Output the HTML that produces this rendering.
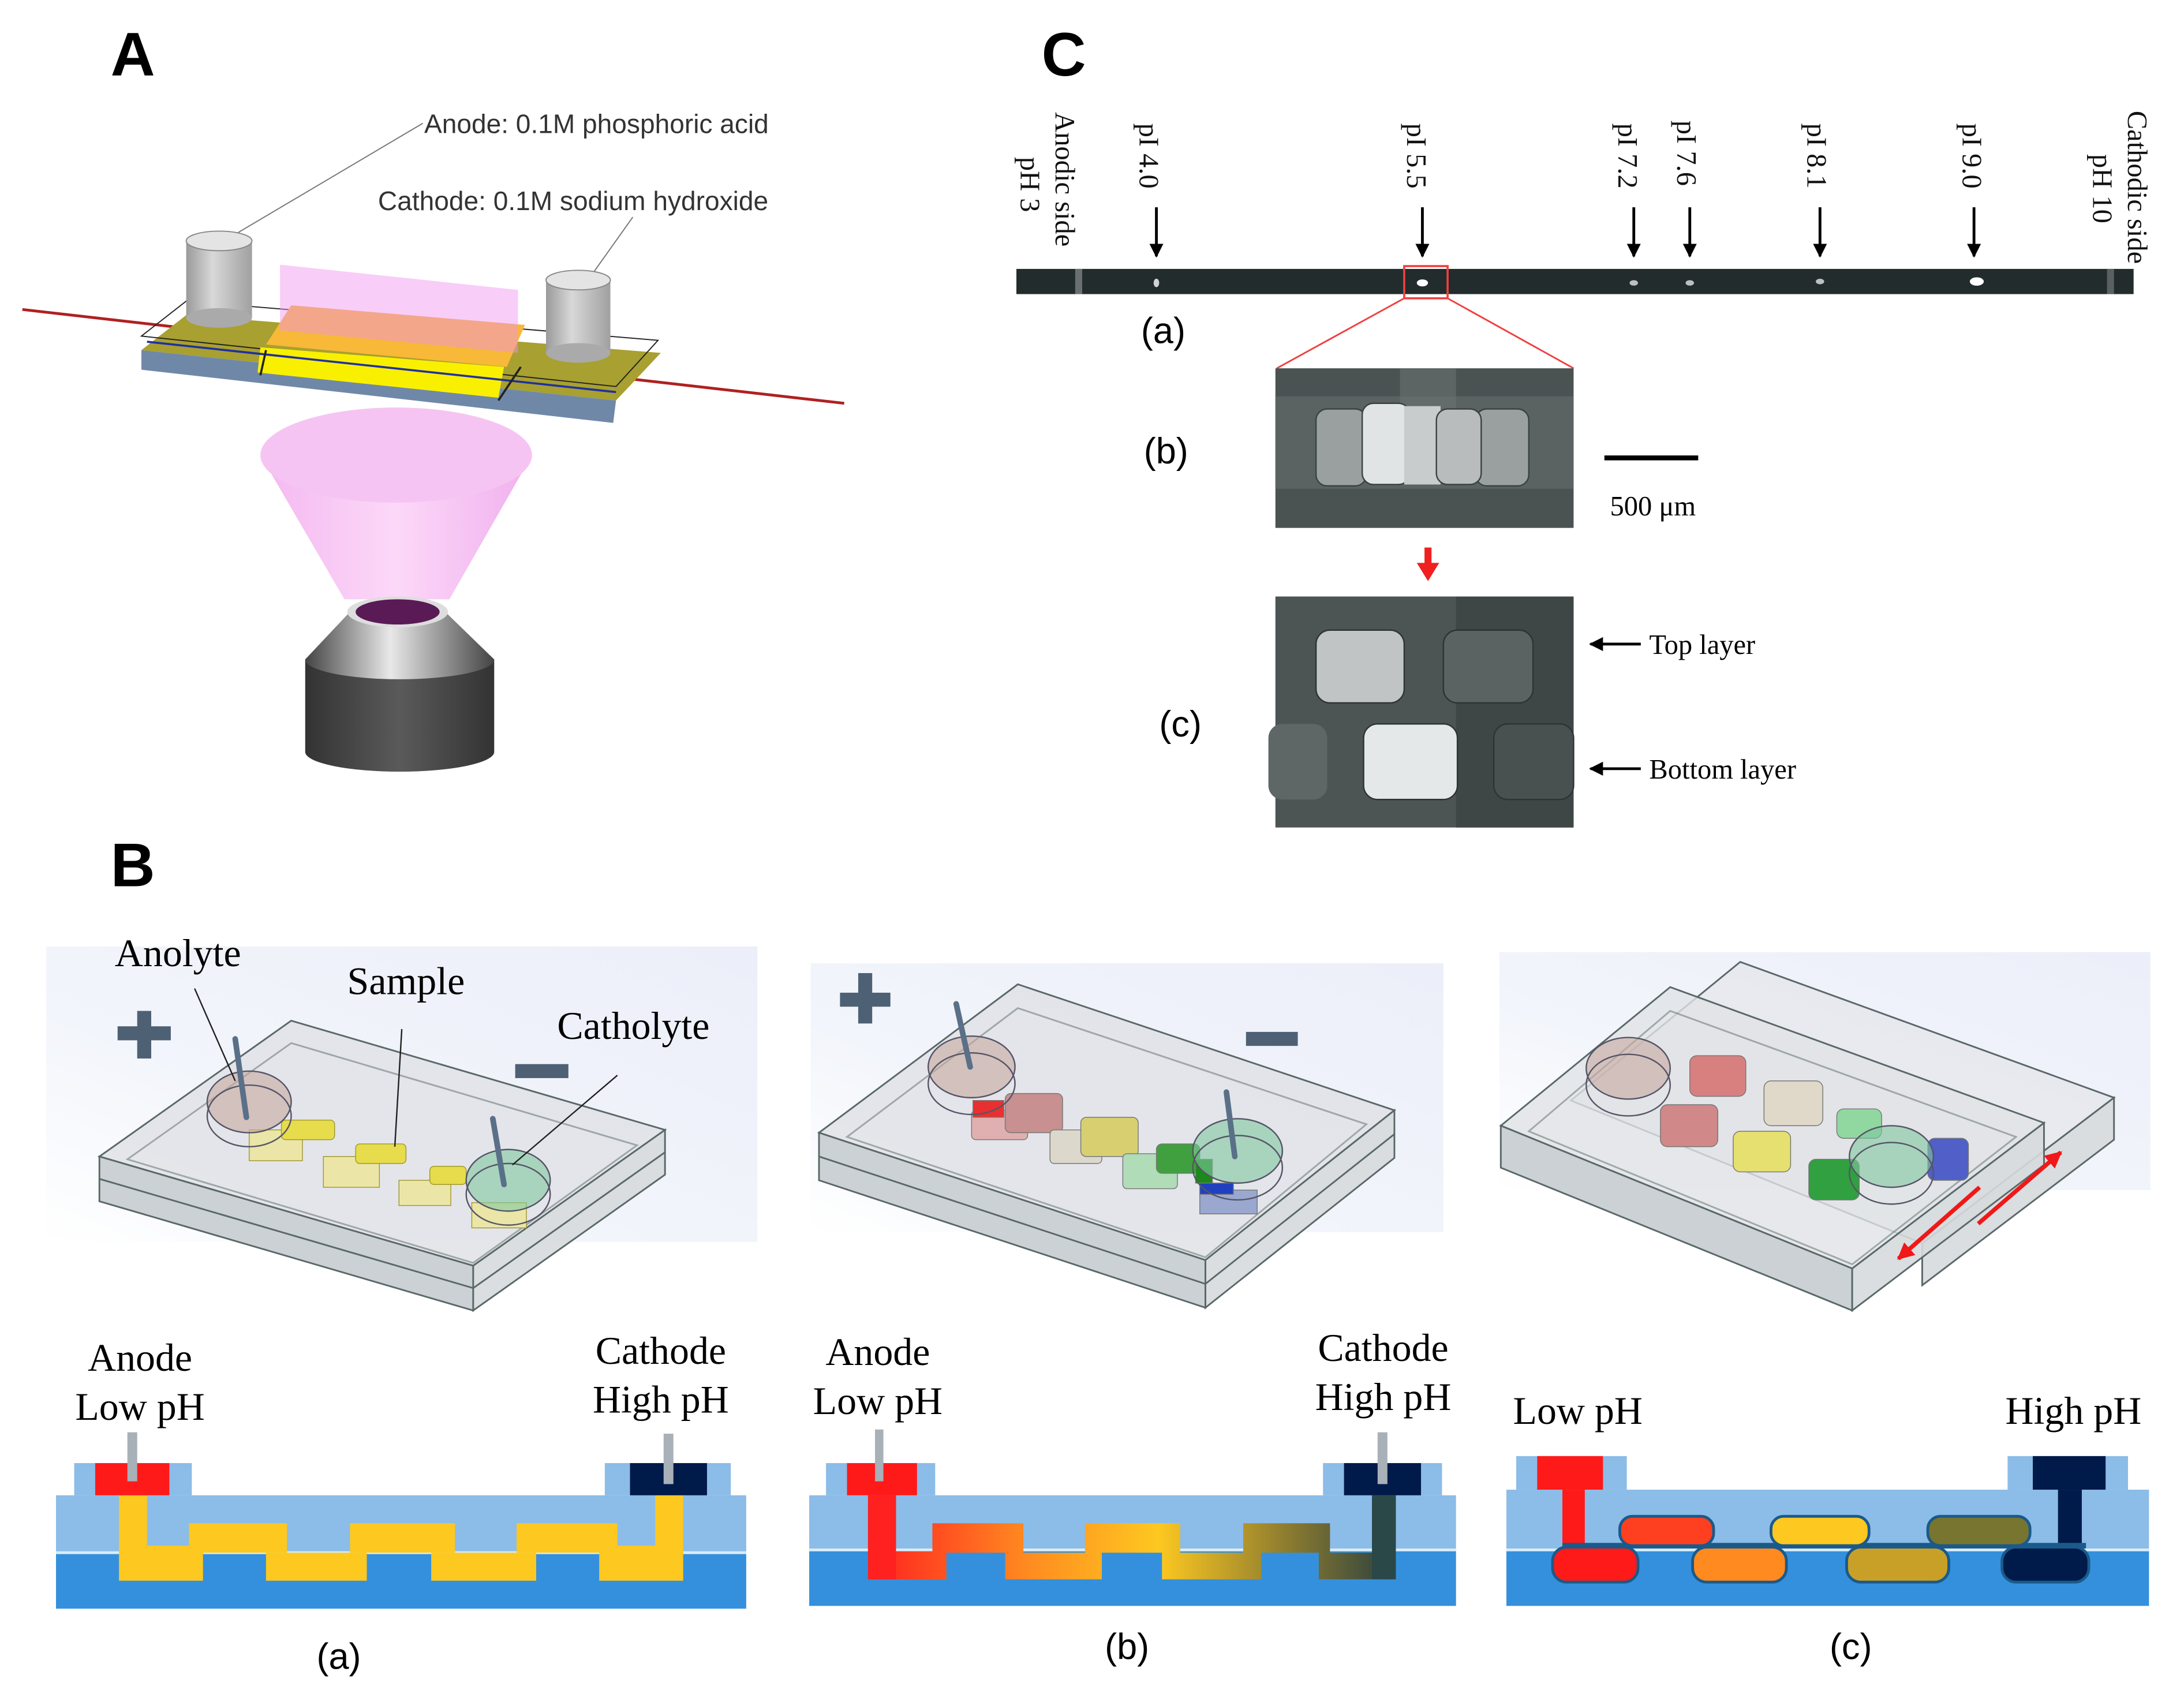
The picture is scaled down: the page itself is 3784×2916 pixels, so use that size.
<!DOCTYPE html>
<html><head><meta charset="utf-8"><style>
html,body{margin:0;padding:0;background:#fff;}
svg{display:block;}
.serif{font-family:"Liberation Serif",serif;}
.sans{font-family:"Liberation Sans",sans-serif;}
</style></head><body>
<svg width="3784" height="2916" viewBox="0 0 1560 1202" xmlns="http://www.w3.org/2000/svg">
<defs>
<linearGradient id="cone" x1="0" x2="1"><stop offset="0" stop-color="#f4b8f0"/><stop offset="0.5" stop-color="#fcd8f8"/><stop offset="1" stop-color="#f0b0ee"/></linearGradient>
<linearGradient id="obj" x1="0" x2="1"><stop offset="0" stop-color="#444"/><stop offset="0.45" stop-color="#e8e8e8"/><stop offset="1" stop-color="#444"/></linearGradient>
<linearGradient id="objb" x1="0" x2="1"><stop offset="0" stop-color="#333"/><stop offset="0.5" stop-color="#5a5a5a"/><stop offset="1" stop-color="#333"/></linearGradient>
<linearGradient id="cyl" x1="0" x2="1"><stop offset="0" stop-color="#9a9a9a"/><stop offset="0.4" stop-color="#d8d8d8"/><stop offset="1" stop-color="#a0a0a0"/></linearGradient>
<linearGradient id="bg" x1="0" x2="1" y1="1" y2="0"><stop offset="0" stop-color="#ffffff"/><stop offset="0.4" stop-color="#f2f5fb"/><stop offset="1" stop-color="#eceef9"/></linearGradient>
<linearGradient id="gb" x1="0" x2="1"><stop offset="0" stop-color="#ff2020"/><stop offset="0.3" stop-color="#ff8a20"/><stop offset="0.55" stop-color="#fdc820"/><stop offset="0.8" stop-color="#8a7a30"/><stop offset="1" stop-color="#2a4040"/></linearGradient>
<marker id="ah" viewBox="0 0 10 10" refX="9" refY="5" markerWidth="5" markerHeight="5" orient="auto"><path d="M0,0L10,5L0,10z" fill="#000"/></marker>
<marker id="ahr" viewBox="0 0 10 10" refX="9" refY="5" markerWidth="4" markerHeight="4" orient="auto"><path d="M0,0L10,5L0,10z" fill="#f01818"/></marker>
</defs>

<text x="79" y="54" class="sans" font-size="44" font-weight="bold">A</text>
<line x1="302" y1="88" x2="160" y2="172" stroke="#777" stroke-width="0.8"/>
<line x1="452" y1="155" x2="420" y2="200" stroke="#777" stroke-width="0.8"/>
<text x="303" y="95" class="sans" font-size="19" fill="#333">Anode: 0.1M phosphoric acid</text>
<text x="270" y="150" class="sans" font-size="19" fill="#333">Cathode: 0.1M sodium hydroxide</text>
<line x1="16" y1="221" x2="603" y2="288" stroke="#b02020" stroke-width="2"/>
<polygon points="101,250 440,286 438,302 101,264" fill="#7088a8"/>
<polygon points="101,250 440,286 472,252 133,225" fill="#a8a030"/>
<polygon points="101,240 133,215 470,243 440,276" fill="none" stroke="#222" stroke-width="0.8"/>
<polygon points="186,248 360,262 356,284 184,266" fill="#f8f000"/>
<polygon points="208,218 375,232 362,262 190,246" fill="#f8b838"/>
<polygon points="200,189 370,207 370,252 200,236" fill="#f090f0" opacity="0.45"/>
<line x1="105" y1="244" x2="440" y2="280" stroke="#2030a0" stroke-width="1.5"/>
<line x1="190" y1="250" x2="186" y2="268" stroke="#222" stroke-width="1.5"/>
<line x1="372" y1="262" x2="356" y2="286" stroke="#222" stroke-width="1.5"/>
<rect x="133" y="172" width="47" height="55" fill="url(#cyl)"/>
<ellipse cx="156.5" cy="227" rx="23.5" ry="7" fill="#aaa"/>
<ellipse cx="156.5" cy="172" rx="23.5" ry="7" fill="#e4e4e4" stroke="#888" stroke-width="0.8"/>
<rect x="390" y="200" width="46" height="52" fill="url(#cyl)"/>
<ellipse cx="413" cy="252" rx="23" ry="7" fill="#aaa"/>
<ellipse cx="413" cy="200" rx="23" ry="7" fill="#e4e4e4" stroke="#888" stroke-width="0.8"/>
<path d="M186,325 L246,428 L321,428 L380,325 Z" fill="url(#cone)"/>
<ellipse cx="283" cy="325" rx="97" ry="34" fill="#f6c4f2"/>
<path d="M250,437 L218,471 L218,537 A67,14 0 0 0 353,537 L353,471 L318,437 Z" fill="url(#objb)"/>
<path d="M250,437 L218,471 A67,14 0 0 0 353,471 L318,437 Z" fill="url(#obj)"/>
<ellipse cx="284" cy="437" rx="36" ry="11" fill="#ddd"/>
<ellipse cx="284" cy="437" rx="30" ry="9" fill="#5a1a55"/>

<text x="744" y="54" class="sans" font-size="44" font-weight="bold">C</text>
<g class="serif" font-size="20" fill="#111">
<text transform="translate(754,80) rotate(90)">Anodic side</text>
<text transform="translate(729,112) rotate(90)">pH 3</text>
<text transform="translate(814,88) rotate(90)">pI 4.0</text>
<text transform="translate(1005,88) rotate(90)">pI 5.5</text>
<text transform="translate(1156,88) rotate(90)">pI 7.2</text>
<text transform="translate(1198,86) rotate(90)">pI 7.6</text>
<text transform="translate(1291,88) rotate(90)">pI 8.1</text>
<text transform="translate(1402,88) rotate(90)">pI 9.0</text>
<text transform="translate(1520,79) rotate(90)">Cathodic side</text>
<text transform="translate(1495,110) rotate(90)">pH 10</text>
</g>
<g stroke="#000" stroke-width="2" marker-end="url(#ah)">
<line x1="826" y1="148" x2="826" y2="183"/>
<line x1="1016" y1="148" x2="1016" y2="183"/>
<line x1="1167" y1="148" x2="1167" y2="183"/>
<line x1="1207" y1="148" x2="1207" y2="183"/>
<line x1="1300" y1="148" x2="1300" y2="183"/>
<line x1="1410" y1="148" x2="1410" y2="183"/>
</g>
<rect x="726" y="192" width="798" height="18" fill="#222c2c"/>
<rect x="768" y="192" width="5" height="18" fill="#6a7070"/>
<rect x="1505" y="192" width="5" height="18" fill="#5a6060"/>
<g fill="#fff">
<ellipse cx="826" cy="202" rx="2" ry="3" opacity="0.8"/>
<ellipse cx="1016" cy="202" rx="4" ry="2.5"/>
<ellipse cx="1167" cy="202" rx="3" ry="2" opacity="0.7"/>
<ellipse cx="1207" cy="202" rx="3" ry="2" opacity="0.7"/>
<ellipse cx="1300" cy="201" rx="3" ry="2" opacity="0.7"/>
<ellipse cx="1412" cy="201" rx="5" ry="3"/>
</g>
<rect x="1003" y="190" width="31" height="23" fill="none" stroke="#f04040" stroke-width="1.5"/>
<line x1="1003" y1="213" x2="912" y2="263" stroke="#f04040" stroke-width="1.2"/>
<line x1="1034" y1="213" x2="1124" y2="263" stroke="#f04040" stroke-width="1.2"/>
<text x="815" y="245" class="sans" font-size="26">(a)</text>
<text x="817" y="331" class="sans" font-size="26">(b)</text>
<text x="828" y="526" class="sans" font-size="26">(c)</text>
<rect x="911" y="263" width="213" height="114" fill="#4a5252"/>
<rect x="911" y="283" width="213" height="66" fill="#5a6262"/>
<rect x="1000" y="263" width="40" height="60" fill="#6a7272" opacity="0.6"/>
<rect x="940" y="292" width="36" height="55" rx="8" fill="#9aa0a0" stroke="#3a4242"/>
<rect x="1054" y="292" width="38" height="55" rx="8" fill="#9aa0a0" stroke="#3a4242"/>
<rect x="973" y="288" width="34" height="58" rx="8" fill="#e0e4e4" stroke="#3a4242"/>
<rect x="1003" y="290" width="26" height="56" fill="#c8cccc"/>
<rect x="1026" y="292" width="32" height="54" rx="8" fill="#b8bcbc" stroke="#3a4242"/>
<line x1="1146" y1="327" x2="1213" y2="327" stroke="#000" stroke-width="3.5"/>
<text x="1150" y="368" class="serif" font-size="20">500 μm</text>
<line x1="1020" y1="391" x2="1020" y2="404" stroke="#f02020" stroke-width="5"/>
<path d="M1012,402 L1028,402 L1020,415 Z" fill="#f02020"/>
<rect x="911" y="426" width="213" height="165" fill="#4c5454"/>
<rect x="1040" y="426" width="84" height="165" fill="#3e4646"/>
<rect x="940" y="450" width="63" height="52" rx="10" fill="#c0c4c4" stroke="#2e3434"/>
<rect x="1031" y="450" width="64" height="52" rx="10" fill="#5a6262" stroke="#2e3434"/>
<rect x="974" y="517" width="67" height="54" rx="10" fill="#e4e8e8" stroke="#2e3434"/>
<rect x="906" y="517" width="42" height="54" rx="10" fill="#5e6666"/>
<rect x="1067" y="517" width="57" height="54" rx="10" fill="#485050" stroke="#2e3434"/>
<line x1="1172" y1="460" x2="1136" y2="460" stroke="#000" stroke-width="2" marker-end="url(#ah)"/>
<text x="1178" y="467" class="serif" font-size="20">Top layer</text>
<line x1="1172" y1="549" x2="1136" y2="549" stroke="#000" stroke-width="2" marker-end="url(#ah)"/>
<text x="1178" y="556" class="serif" font-size="20">Bottom layer</text>

<text x="79" y="633" class="sans" font-size="44" font-weight="bold">B</text>
<rect x="33" y="676" width="508" height="211" fill="url(#bg)"/>
<rect x="579" y="688" width="452" height="192" fill="url(#bg)"/>
<rect x="1071" y="680" width="465" height="170" fill="url(#bg)"/>

<g stroke="#5a6868" stroke-width="1.2">
<polygon points="208,729 475,807 338,904 71,826" fill="#e0e2e6" fill-opacity="0.85"/>
<polygon points="71,826 338,904 338,936 71,858" fill="#c6ccd0" fill-opacity="0.9"/>
<polygon points="338,904 475,807 475,839 338,936" fill="#d6dadd" fill-opacity="0.9"/>
<line x1="71" y1="842" x2="338" y2="920"/><line x1="338" y1="920" x2="475" y2="823"/>
<polygon points="208,745 455,818 338,902 91,828" fill="none" stroke-opacity="0.5"/>
</g>
<g stroke="#a09830" stroke-width="0.6">
<rect x="178" y="807" width="38" height="22" fill="#ebe6a8"/>
<rect x="231" y="826" width="40" height="22" fill="#ebe6a8"/>
<rect x="285" y="843" width="37" height="18" fill="#ebe6a8"/>
<rect x="337" y="859" width="39" height="18" fill="#ebe6a8"/>
<rect x="201" y="800" width="38" height="14" rx="3" fill="#e6dc4c"/>
<rect x="254" y="817" width="36" height="14" rx="3" fill="#e6dc4c"/>
<rect x="307" y="833" width="26" height="13" rx="3" fill="#e6dc4c"/>
</g>
<ellipse cx="178" cy="787" rx="30" ry="22" fill="#c8a8a0" fill-opacity="0.6" stroke="#556" stroke-width="1"/>
<ellipse cx="178" cy="797" rx="30" ry="22" fill="none" stroke="#556" stroke-width="1"/>
<ellipse cx="363" cy="843" rx="30" ry="22" fill="#80c8a0" fill-opacity="0.6" stroke="#556" stroke-width="1"/>
<ellipse cx="363" cy="853" rx="30" ry="22" fill="none" stroke="#556" stroke-width="1"/>
<line x1="168" y1="742" x2="176" y2="798" stroke="#5a7088" stroke-width="4" stroke-linecap="round"/>
<line x1="352" y1="799" x2="360" y2="846" stroke="#5a7088" stroke-width="4" stroke-linecap="round"/>
<g stroke="#222" stroke-width="1">
<line x1="139" y1="706" x2="168" y2="772"/>
<line x1="287" y1="735" x2="282" y2="819"/>
<line x1="441" y1="768" x2="366" y2="832"/>
</g>
<rect x="84" y="733" width="38" height="10" fill="#4e6074"/><rect x="98" y="722" width="10" height="34" fill="#4e6074"/>
<rect x="368" y="760" width="38" height="10" fill="#4e6074"/>
<g class="serif" font-size="28">
<text x="82" y="690">Anolyte</text>
<text x="248" y="710">Sample</text>
<text x="398" y="742">Catholyte</text>
</g>

<g stroke="#5a6868" stroke-width="1.2">
<polygon points="727,703 996,793 861,900 585,809" fill="#e0e2e6" fill-opacity="0.85"/>
<polygon points="585,809 861,900 861,934 585,843" fill="#c6ccd0" fill-opacity="0.9"/>
<polygon points="861,900 996,793 996,827 861,934" fill="#d6dadd" fill-opacity="0.9"/>
<line x1="585" y1="826" x2="861" y2="917"/><line x1="861" y1="917" x2="996" y2="810"/>
<polygon points="727,720 976,803 861,898 605,812" fill="none" stroke-opacity="0.5"/>
</g>
<g stroke-width="0.6" stroke="#777">
<rect x="694" y="793" width="40" height="21" rx="3" fill="#e0b0b0"/>
<rect x="718" y="781" width="41" height="28" rx="4" fill="#c89090"/>
<rect x="695" y="786" width="22" height="12" fill="#e83030"/>
<rect x="750" y="807" width="37" height="24" rx="3" fill="#ddd8cc"/>
<rect x="772" y="798" width="41" height="28" rx="4" fill="#d8d070"/>
<rect x="802" y="824" width="39" height="25" rx="3" fill="#b0dcb8"/>
<rect x="826" y="817" width="31" height="21" rx="4" fill="#40a040"/>
<rect x="854" y="828" width="12" height="17" fill="#1a8a1a"/>
<rect x="857" y="850" width="41" height="17" fill="#9aa8d0"/>
<rect x="857" y="845" width="24" height="8" fill="#2040c0"/>
</g>
<ellipse cx="694" cy="762" rx="31" ry="22" fill="#c8a8a0" fill-opacity="0.6" stroke="#556"/>
<ellipse cx="694" cy="774" rx="31" ry="22" fill="none" stroke="#556"/>
<ellipse cx="884" cy="822" rx="32" ry="23" fill="#80c8a0" fill-opacity="0.6" stroke="#556"/>
<ellipse cx="884" cy="834" rx="32" ry="23" fill="none" stroke="#556"/>
<line x1="683" y1="717" x2="693" y2="762" stroke="#5a7088" stroke-width="4" stroke-linecap="round"/>
<line x1="876" y1="780" x2="882" y2="826" stroke="#5a7088" stroke-width="4" stroke-linecap="round"/>
<rect x="600" y="709" width="36" height="10" fill="#4e6074"/><rect x="613" y="695" width="10" height="36" fill="#4e6074"/>
<rect x="890" y="737" width="37" height="10" fill="#4e6074"/>

<g stroke="#5a6868" stroke-width="1.2">
<polygon points="1243,687 1510,784 1373,888 1122,786" fill="#e4e6ea" fill-opacity="0.7"/>
<polygon points="1373,888 1510,784 1510,814 1373,918" fill="#d6dadd" fill-opacity="0.9"/>
<polygon points="1193,705 1460,802 1323,906 1072,804" fill="#e0e2e6" fill-opacity="0.8"/>
<polygon points="1072,804 1323,906 1323,936 1072,834" fill="#c6ccd0" fill-opacity="0.9"/>
<polygon points="1323,906 1460,802 1460,832 1323,936" fill="#d6dadd" fill-opacity="0.9"/>
<polygon points="1193,722 1440,812 1323,903 1092,808" fill="none" stroke-opacity="0.5"/>
</g>
<g stroke-width="0.6" stroke="#777">
<rect x="1207" y="754" width="40" height="29" rx="5" fill="#d88080"/>
<rect x="1260" y="772" width="42" height="32" rx="5" fill="#e0d8c8"/>
<rect x="1186" y="789" width="41" height="30" rx="5" fill="#d08888"/>
<rect x="1238" y="808" width="41" height="29" rx="5" fill="#e6e070"/>
<rect x="1312" y="792" width="32" height="21" rx="5" fill="#90d8a0"/>
<rect x="1377" y="813" width="29" height="30" rx="5" fill="#5060c8"/>
<rect x="1292" y="828" width="36" height="29" rx="5" fill="#30a040"/>
</g>
<ellipse cx="1163" cy="763" rx="30" ry="22" fill="#c8a8a0" fill-opacity="0.6" stroke="#556"/>
<ellipse cx="1163" cy="775" rx="30" ry="22" fill="none" stroke="#556"/>
<ellipse cx="1351" cy="826" rx="30" ry="22" fill="#80c8a0" fill-opacity="0.6" stroke="#556"/>
<ellipse cx="1351" cy="838" rx="30" ry="22" fill="none" stroke="#556"/>
<line x1="1414" y1="848" x2="1356" y2="899" stroke="#f01818" stroke-width="3" marker-end="url(#ahr)"/>
<line x1="1413" y1="874" x2="1472" y2="823" stroke="#f01818" stroke-width="3" marker-end="url(#ahr)"/>

<g class="serif" font-size="28">
<text x="100" y="979" text-anchor="middle">Anode</text>
<text x="100" y="1014" text-anchor="middle">Low pH</text>
<text x="472" y="974" text-anchor="middle">Cathode</text>
<text x="472" y="1009" text-anchor="middle">High pH</text>
<text x="627" y="975" text-anchor="middle">Anode</text>
<text x="627" y="1010" text-anchor="middle">Low pH</text>
<text x="988" y="972" text-anchor="middle">Cathode</text>
<text x="988" y="1007" text-anchor="middle">High pH</text>
<text x="1127" y="1017" text-anchor="middle">Low pH</text>
<text x="1481" y="1017" text-anchor="middle">High pH</text>
</g>
<g class="sans" font-size="26">
<text x="242" y="1192" text-anchor="middle">(a)</text>
<text x="805" y="1185" text-anchor="middle">(b)</text>
<text x="1322" y="1185" text-anchor="middle">(c)</text>
</g>

<rect x="40" y="1068" width="493" height="41" fill="#8cbce8"/>
<rect x="53" y="1045" width="84" height="23" fill="#8cbce8"/>
<rect x="432" y="1045" width="90" height="23" fill="#8cbce8"/>
<rect x="40" y="1109" width="493" height="40" fill="#3490dc"/>
<rect x="40" y="1108" width="493" height="2" fill="#d8ecfa"/>
<g fill="#fdc820">
<rect x="85" y="1068" width="20" height="41"/>
<rect x="468" y="1068" width="20" height="41"/>
<rect x="85" y="1109" width="60" height="20"/>
<rect x="190" y="1109" width="72" height="20"/>
<rect x="308" y="1109" width="75" height="20"/>
<rect x="428" y="1109" width="60" height="20"/>
<rect x="135" y="1088" width="70" height="21"/>
<rect x="250" y="1088" width="75" height="21"/>
<rect x="369" y="1088" width="72" height="21"/>
<rect x="85" y="1104" width="60" height="6"/>
<rect x="428" y="1104" width="60" height="6"/>
</g>
<rect x="68" y="1045" width="53" height="23" fill="#ff1a1a"/>
<rect x="450" y="1045" width="55" height="23" fill="#001a4a"/>
<rect x="91" y="1023" width="7" height="35" fill="#a8b0b8"/>
<rect x="474" y="1024" width="7" height="36" fill="#a8b0b8"/>

<rect x="578" y="1068" width="462" height="41" fill="#8cbce8"/>
<rect x="590" y="1045" width="78" height="23" fill="#8cbce8"/>
<rect x="945" y="1045" width="85" height="23" fill="#8cbce8"/>
<rect x="578" y="1108" width="462" height="39" fill="#3490dc"/>
<rect x="578" y="1106" width="462" height="2" fill="#d8ecfa"/>
<path d="M620,1068 H640 V1108 H666 V1088 H731 V1109 H775 V1088 H843 V1109 H888 V1088 H950 V1109 H980 V1068 H997 V1128 H942 V1109 H901 V1128 H830 V1109 H787 V1128 H718 V1109 H676 V1128 H620 Z" fill="url(#gb)"/>
<rect x="605" y="1045" width="50" height="23" fill="#ff1a1a"/>
<rect x="620" y="1068" width="20" height="60" fill="#ff2020"/>
<rect x="960" y="1045" width="55" height="23" fill="#001a4a"/>
<rect x="980" y="1068" width="17" height="60" fill="#2a4848"/>
<rect x="625" y="1021" width="6" height="37" fill="#a8b0b8"/>
<rect x="984" y="1023" width="7" height="37" fill="#a8b0b8"/>

<rect x="1076" y="1064" width="459" height="43" fill="#8cbce8"/>
<rect x="1083" y="1040" width="79" height="24" fill="#8cbce8"/>
<rect x="1434" y="1040" width="86" height="24" fill="#8cbce8"/>
<rect x="1076" y="1107" width="459" height="40" fill="#3490dc"/>
<rect x="1076" y="1106" width="459" height="2" fill="#d8ecfa"/>
<rect x="1098" y="1040" width="47" height="24" fill="#ff1a1a"/>
<rect x="1116" y="1064" width="16" height="42" fill="#ff1a1a"/>
<rect x="1452" y="1040" width="52" height="24" fill="#001a4a"/>
<rect x="1470" y="1064" width="17" height="42" fill="#001a4a"/>
<rect x="1116" y="1102" width="374" height="4" fill="#1a5a8a"/>
<g stroke="#1a5a8a" stroke-width="2">
<rect x="1157" y="1083" width="67" height="21" rx="9" fill="#ff4020"/>
<rect x="1265" y="1083" width="70" height="21" rx="9" fill="#fdc820"/>
<rect x="1377" y="1083" width="73" height="21" rx="9" fill="#787530"/>
<rect x="1109" y="1105" width="61" height="25" rx="10" fill="#ff1a1a"/>
<rect x="1209" y="1105" width="67" height="25" rx="10" fill="#ff8a20"/>
<rect x="1319" y="1105" width="73" height="25" rx="10" fill="#c8a028"/>
<rect x="1430" y="1105" width="62" height="25" rx="10" fill="#001a4a"/>
</g>
</svg>
</body></html>
